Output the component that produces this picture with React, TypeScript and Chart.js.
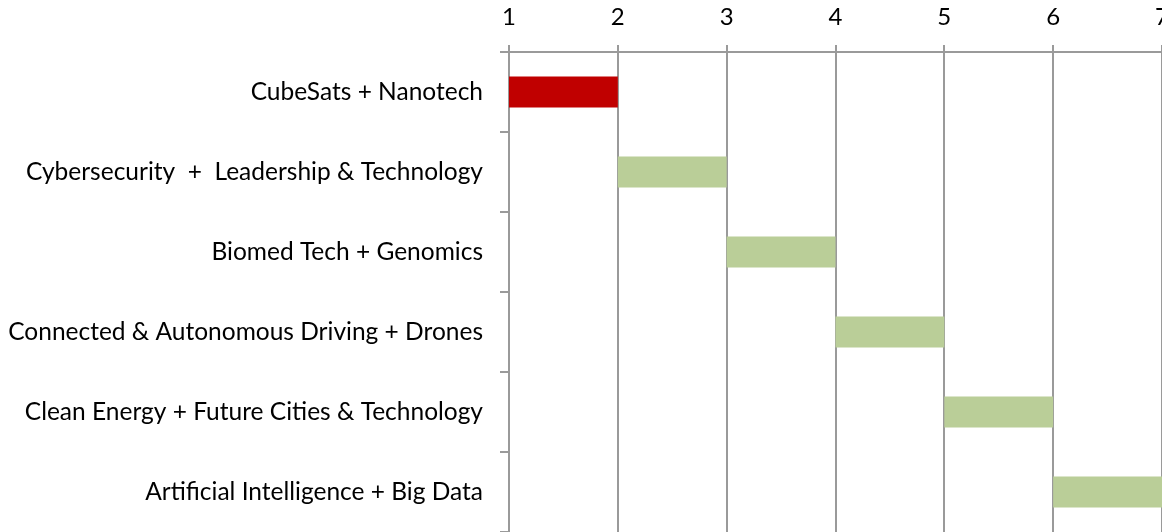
import React, { useEffect, useRef } from "react";
import { Chart, registerables } from "chart.js";

Chart.register(...registerables);

const categories = [
  "CubeSats + Nanotech",
  "Cybersecurity  +  Leadership & Technology",
  "Biomed Tech + Genomics",
  "Connected & Autonomous Driving + Drones",
  "Clean Energy + Future Cities & Technology",
  "Artificial Intelligence + Big Data",
];
const starts = [1, 2, 3, 4, 5, 6];
const ends = [2, 3, 4, 5, 6, 7];
const xTicks = [1, 2, 3, 4, 5, 6, 7];

const RED = "#C00000";
const GREEN = "#BACE98";
const GRID = "#9a9a9a";
const FONT = "Lato, 'Open Sans', sans-serif";

export default function App() {
  const ref = useRef<HTMLCanvasElement | null>(null);

  useEffect(() => {
    document.body.style.margin = "0";
    const canvas = ref.current;
    if (!canvas) return;
    const chart = new Chart(canvas, {
      type: "bar",
      data: {
        labels: categories,
        datasets: [
          {
            data: categories.map((_, i) => [starts[i], ends[i]]) as any,
            backgroundColor: (ctx: any) => (ctx.dataIndex === 0 ? RED : GREEN),
            borderWidth: 0,
            barPercentage: 0.39,
            categoryPercentage: 1,
          },
        ],
      },
      options: {
        indexAxis: "y",
        responsive: false,
        animation: false,
        layout: { padding: { left: 0, right: 21, top: 0, bottom: 0 } },
        plugins: { legend: { display: false }, tooltip: { enabled: false } },
        scales: {
          x: {
            type: "linear",
            position: "top",
            min: xTicks[0],
            max: xTicks[xTicks.length - 1],
            afterBuildTicks: (scale: any) => {
              scale.ticks = xTicks.map((v) => ({ value: v }));
            },
            afterFit: (scale: any) => {
              scale.height = 52;
            },
            ticks: {
              color: "#000",
              font: { family: FONT, size: 24 },
              padding: 13,
              maxRotation: 0,
            },
            grid: {
              color: GRID,
              lineWidth: 2,
              tickLength: 7,
              drawOnChartArea: true,
            },
            border: { display: true, color: GRID, width: 2 },
          },
          y: {
            type: "category",
            afterFit: (scale: any) => {
              scale.width = 509;
              scale.paddingTop = 0;
              scale.paddingBottom = 0;
            },
            ticks: {
              color: "#000",
              font: { family: FONT, size: 24.5 },
              padding: 17,
            },
            grid: {
              offset: true,
              color: GRID,
              lineWidth: 2,
              tickLength: 9,
              drawOnChartArea: false,
            },
            border: { display: true, color: GRID, width: 2 },
          },
        },
      },
    });
    return () => chart.destroy();
  }, []);

  return (
    <div style={{ position: "absolute", left: 0, top: 0, width: 1162, height: 532, overflow: "hidden", background: "#fff" }}>
      <canvas ref={ref} width={1183} height={532} style={{ display: "block" }} />
    </div>
  );
}
